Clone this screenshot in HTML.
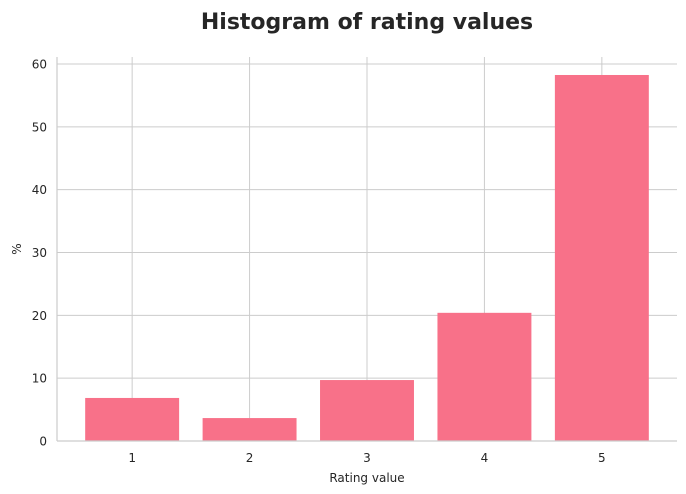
<!DOCTYPE html>
<html><head><meta charset="utf-8"><style>
body{margin:0;background:#fff;}
svg{display:block;font-family:"DejaVu Sans","Liberation Sans",sans-serif;}
</style></head><body>
<svg id="chart" width="686" height="494">
<text x="367" y="29" text-anchor="middle" font-size="22" font-weight="bold" fill="#262626">Histogram of rating values</text>
<g id="grid"></g>
<g id="bars"></g>
<g id="axes"></g>
<text x="367" y="482" text-anchor="middle" font-size="12" fill="#262626">Rating value</text>
<text x="21" y="249" text-anchor="middle" font-size="12" fill="#262626" transform="rotate(-90 21 249)">%</text>
</svg>
<script>
const categories = ["1","2","3","4","5"];
const values = [6.85, 3.65, 9.7, 20.4, 58.25];
const yTicks = [0,10,20,30,40,50,60];
const L=57,R=677,T=57,B=441;
const xMin=0.36,xMax=5.64;
const xs=i=>L+((i+1)-xMin)/(xMax-xMin)*(R-L);
function y(v){return B-v*(441-64)/60;}
const ns="http://www.w3.org/2000/svg";
const grid=document.getElementById('grid'),bars=document.getElementById('bars'),axes=document.getElementById('axes');
function mk(tag,attrs,parent){const e=document.createElementNS(ns,tag);for(const k in attrs)e.setAttribute(k,attrs[k]);parent.appendChild(e);return e;}
yTicks.forEach(t=>{
  const l=mk('line',{x1:L,x2:R,y1:y(t),y2:y(t),stroke:'#cccccc','stroke-width':1},grid);
  
  
  const tx=mk('text',{x:L-10,y:y(t)+4.5,'text-anchor':'end','font-size':12,fill:'#262626'},axes);
  tx.textContent=t;
  
  
});
categories.forEach((c,i)=>{
  const l=mk('line',{x1:xs(i),x2:xs(i),y1:T,y2:B,stroke:'#cccccc','stroke-width':1},grid);
  
  
  const w=0.8/(xMax-xMin)*(R-L);
  const r=mk('rect',{x:xs(i)-w/2,y:y(values[i]),width:w,height:B-y(values[i]),fill:'#f87189'},bars);
  
  
  const tx=mk('text',{x:xs(i),y:B+21,'text-anchor':'middle','font-size':12,fill:'#262626'},axes);
  tx.textContent=c;
  
  
});
const s1=mk('line',{x1:L,x2:L,y1:T,y2:B,stroke:'#cccccc','stroke-width':1.2},axes);


const s2=mk('line',{x1:L,x2:R,y1:B,y2:B,stroke:'#cccccc','stroke-width':1.2},axes);


</script>
</body></html>
